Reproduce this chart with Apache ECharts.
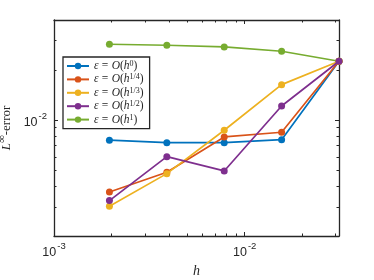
<!DOCTYPE html>
<html>
<head>
<meta charset="utf-8">
<script src="https://cdn.jsdelivr.net/npm/echarts@6/dist/echarts.min.js"></script>
<style>html,body{margin:0;padding:0;background:#fff;}#c{width:374px;height:280px;}</style>
</head>
<body>
<div id="c"></div>
<script>
const hValues = [0.001953125, 0.00390625, 0.0078125, 0.015625, 0.03125];
const seriesNames = ['0', '1/4', '1/3', '1/2', '1'];
const errH0   = [0.00755, 0.00730, 0.00730, 0.00761, 0.02257];
const errH14  = [0.00368, 0.00484, 0.00790, 0.00843, 0.02257];
const errH13  = [0.00302, 0.00475, 0.00867, 0.01632, 0.02257];
const errH12  = [0.00327, 0.00601, 0.00493, 0.01214, 0.02257];
const errH1   = [0.02858, 0.02818, 0.02754, 0.02594, 0.02257];
const xMajorTicks = [0.001, 0.01];
const xMinorTicks = [0.002,0.003,0.004,0.005,0.006,0.007,0.008,0.009,0.02,0.03];
const yMajorTicks = [0.01];
const yMinorTicks = [0.002,0.003,0.004,0.005,0.006,0.007,0.008,0.009,0.02,0.03,0.04];
const colors = ['#0072BD','#D95319','#EDB120','#7E2F8E','#77AC30'];
const allErr = [errH0, errH14, errH13, errH12, errH1];

const chart = echarts.init(document.getElementById('c'), null, {renderer:'canvas'});
const axisColor = '#262626';
const serif = '"Liberation Serif", "DejaVu Serif", serif';
const sans = '"Liberation Sans", Arial, sans-serif';

function powLabel(v){
  const e = Math.round(Math.log10(v));
  return '{b|10}{s|' + e + '}';
}
const labelRich = {
  b:{fontSize:12.5, fontFamily:sans, color:axisColor, lineHeight:18, verticalAlign:'bottom'},
  s:{fontSize:9.5, fontFamily:sans, color:axisColor, lineHeight:18, verticalAlign:'top', padding:[0,0,0,1]}
};

function xAx(pos, ticks, len, showLabel, showLine){
  return {
    type:'log', logBase:10, min:0.001, max:0.03125, position:pos,
    axisLine:{show:showLine, lineStyle:{color:axisColor, width:1.3}},
    axisTick:{show:true, inside:true, length:len, customValues:ticks, lineStyle:{color:axisColor, width:1}},
    axisLabel:{show:showLabel, customValues:ticks, formatter:powLabel, rich:labelRich, margin:5},
    splitLine:{show:false}, minorTick:{show:false}, minorSplitLine:{show:false}
  };
}
function yAx(pos, ticks, len, showLabel, showLine){
  return {
    type:'log', logBase:10, min:0.002, max:0.04, position:pos,
    axisLine:{show:showLine, lineStyle:{color:axisColor, width:1.3}},
    axisTick:{show:true, inside:true, length:len, customValues:ticks, lineStyle:{color:axisColor, width:1}},
    axisLabel:{show:showLabel, customValues:ticks, formatter:powLabel, rich:labelRich, margin:7},
    splitLine:{show:false}, minorTick:{show:false}, minorSplitLine:{show:false}
  };
}

const xAxes = [
  Object.assign(xAx('bottom', xMajorTicks, 4, true, true), {
    name:'{i|h}', nameLocation:'middle', nameGap:27,
    nameTextStyle:{rich:{i:{fontFamily:serif, fontStyle:'italic', fontSize:14, color:axisColor}}}
  }),
  xAx('bottom', xMinorTicks, 2.5, false, false),
  xAx('top', xMajorTicks, 4, false, true),
  xAx('top', xMinorTicks, 2.5, false, false)
];
const yAxes = [
  Object.assign(yAx('left', yMajorTicks, 4, true, true), {
    name:'{i|L}{s|∞}{r|-error}', nameLocation:'middle', nameGap:37, nameRotate:90,
    nameTextStyle:{rich:{
      i:{fontFamily:serif, fontStyle:'italic', fontSize:13, color:axisColor, lineHeight:16, verticalAlign:'bottom'},
      s:{fontFamily:serif, fontSize:11, color:axisColor, lineHeight:16, verticalAlign:'top'},
      r:{fontFamily:serif, fontSize:13, color:axisColor, lineHeight:16, verticalAlign:'bottom'}
    }}
  }),
  yAx('left', yMinorTicks, 2.5, false, false),
  yAx('right', yMajorTicks, 4, false, true),
  yAx('right', yMinorTicks, 2.5, false, false)
];

const series = seriesNames.map((n, k) => ({
  name:n, type:'line', xAxisIndex:0, yAxisIndex:0,
  data: hValues.map((h, i) => [h, allErr[k][i]]),
  symbol:'circle', symbolSize:7,
  lineStyle:{width:1.7, color:colors[k]},
  itemStyle:{color:colors[k]},
  emphasis:{disabled:true}, animation:false, z: 2 + (k === 4 ? 0 : k)
}));

chart.setOption({
  animation:false,
  grid:{left:54, right:35, top:20, bottom:44, containLabel:false, outerBoundsMode:'none'},
  xAxis:xAxes, yAxis:yAxes,
  legend:{
    orient:'vertical', left:63, top:57, padding:[3,6,3,3],
    itemWidth:22, itemHeight:8, itemGap:1.4,
    backgroundColor:'#fff', borderColor:axisColor, borderWidth:1.3, borderRadius:0,
    selectedMode:false,
    data: seriesNames,
    formatter: n => '{i|ε} {r|=} {i|O}{r|(}{i|h}{s|' + n + '}{r|)}',
    textStyle:{rich:{
      i:{fontFamily:serif, fontStyle:'italic', fontSize:11.5, color:axisColor, lineHeight:9, verticalAlign:'bottom'},
      r:{fontFamily:serif, fontSize:11.5, color:axisColor, lineHeight:9, verticalAlign:'bottom'},
      s:{fontFamily:serif, fontSize:8, color:axisColor, lineHeight:9, verticalAlign:'top'}
    }}
  },
  series: series
});
</script>
</body>
</html>
